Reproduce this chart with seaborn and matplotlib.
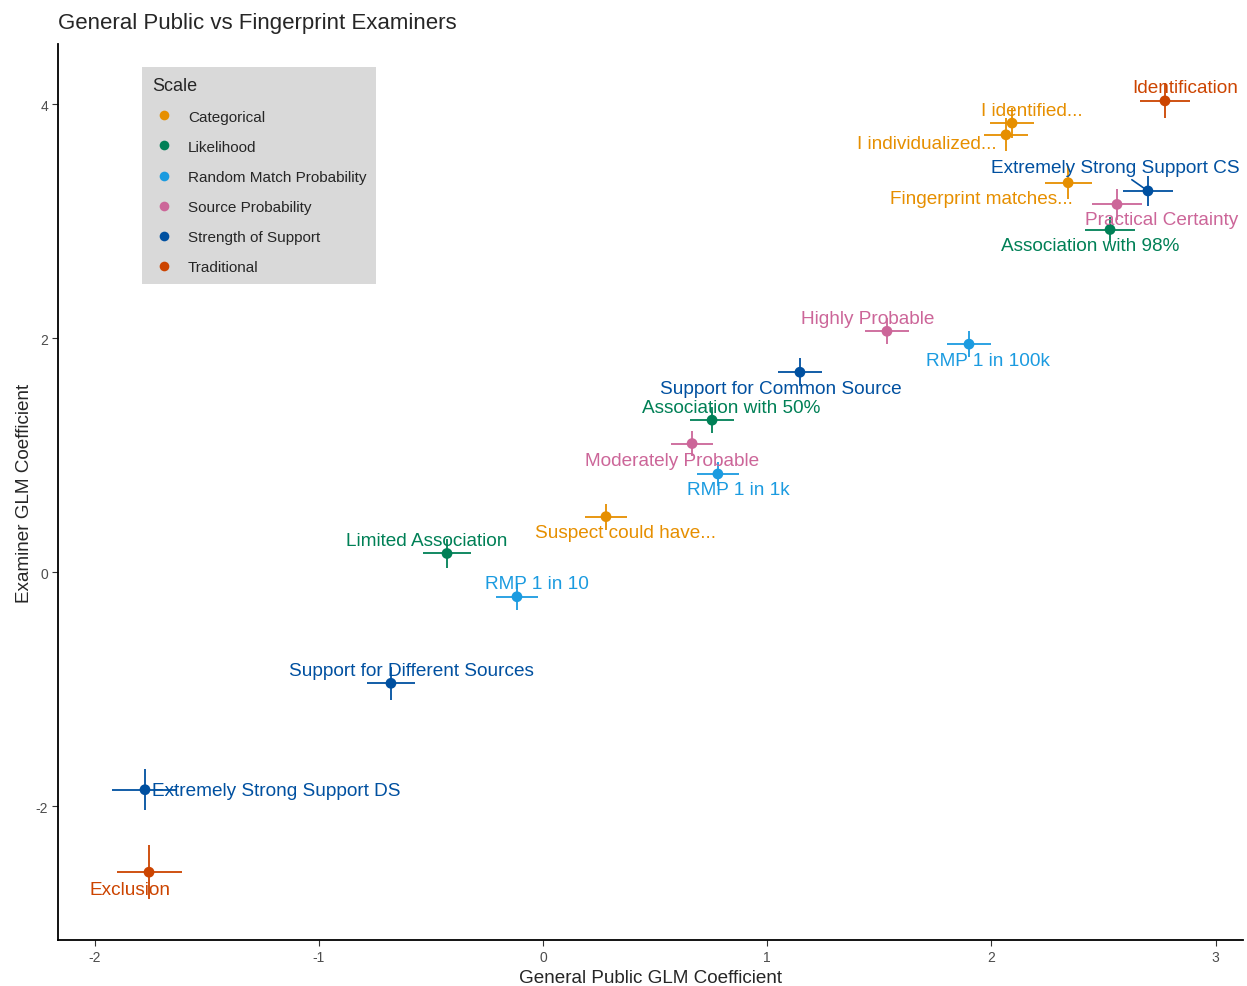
import numpy as np
import pandas as pd
import matplotlib
matplotlib.use("Agg")
import matplotlib.pyplot as plt
import seaborn as sns

# ============================
# Data
# ============================
labels = [
    "Identification", "I identified...", "I individualized...",
    "Fingerprint matches...", "Extremely Strong Support CS", "Practical Certainty",
    "Association with 98%", "Highly Probable", "RMP 1 in 100k",
    "Support for Common Source", "Association with 50%", "Moderately Probable",
    "RMP 1 in 1k", "Suspect could have...", "Limited Association",
    "RMP 1 in 10", "Support for Different Sources", "Extremely Strong Support DS",
    "Exclusion",
]
scale = [
    "Traditional", "Categorical", "Categorical",
    "Categorical", "Strength of Support", "Source Probability",
    "Likelihood", "Source Probability", "Random Match Probability",
    "Strength of Support", "Likelihood", "Source Probability",
    "Random Match Probability", "Categorical", "Likelihood",
    "Random Match Probability", "Strength of Support", "Strength of Support",
    "Traditional",
]
public_coef = [2.774, 2.092, 2.065, 2.342, 2.698, 2.560, 2.529, 1.534, 1.900,
               1.146, 0.754, 0.665, 0.780, 0.281, -0.428, -0.116, -0.678,
               -1.775, -1.757]
examiner_coef = [4.03, 3.84, 3.74, 3.33, 3.26, 3.145, 2.93, 2.06, 1.95,
                 1.71, 1.30, 1.10, 0.84, 0.475, 0.16, -0.21, -0.95,
                 -1.86, -2.565]
public_se = [0.11, 0.10, 0.10, 0.105, 0.11, 0.11, 0.11, 0.10, 0.10,
             0.10, 0.10, 0.095, 0.095, 0.095, 0.105, 0.095, 0.107,
             0.145, 0.145]
examiner_se = [0.15, 0.13, 0.14, 0.14, 0.13, 0.13, 0.11, 0.11, 0.11,
               0.12, 0.11, 0.11, 0.10, 0.11, 0.12, 0.115, 0.14,
               0.175, 0.23]

scale_order = ["Categorical", "Likelihood", "Random Match Probability",
               "Source Probability", "Strength of Support", "Traditional"]
scale_colors = ["#E68F00", "#008056", "#1B9BE0", "#CC6699", "#0050A0", "#CC4400"]

# label placement (offset in pixels from the point, horizontal alignment)
label_offsets = {
    "Identification": (20, 13, "center"),
    "I identified...": (20, 13, "center"),
    "I individualized...": (-79, -9, "center"),
    "Fingerprint matches...": (-87, -16, "center"),
    "Extremely Strong Support CS": (-33, 23, "center"),
    "Practical Certainty": (45, -15, "center"),
    "Association with 98%": (-20, -16, "center"),
    "Highly Probable": (-19, 13, "center"),
    "RMP 1 in 100k": (19, -16, "center"),
    "Support for Common Source": (-19, -16, "center"),
    "Association with 50%": (19, 13, "center"),
    "Moderately Probable": (-20, -17, "center"),
    "RMP 1 in 1k": (20, -16, "center"),
    "Suspect could have...": (20, -16, "center"),
    "Limited Association": (-20, 13, "center"),
    "RMP 1 in 10": (20, 13, "center"),
    "Support for Different Sources": (20, 13, "center"),
    "Extremely Strong Support DS": (7, -1, "left"),
    "Exclusion": (-19, -17, "center"),
}

df = pd.DataFrame({
    "label": labels,
    "Scale": scale,
    "public": public_coef,
    "examiner": examiner_coef,
    "public_se": public_se,
    "examiner_se": examiner_se,
})
palette = dict(zip(scale_order, scale_colors))

# ============================
# Plot
# ============================
sns.set_theme(style="white")
plt.rcParams["font.family"] = ["Liberation Sans", "DejaVu Sans"]
plt.rcParams["axes.unicode_minus"] = False

fig = plt.figure(figsize=(12.47, 9.87), dpi=100)
ax = fig.add_axes([0.0465, 0.0466, 0.9503, 0.9074])

for _, row in df.iterrows():
    ax.errorbar(row["public"], row["examiner"],
                xerr=row["public_se"], yerr=row["examiner_se"],
                fmt="none", ecolor=palette[row["Scale"]], elinewidth=1.3,
                capsize=0, zorder=2)

sns.scatterplot(data=df, x="public", y="examiner", hue="Scale",
                hue_order=scale_order, palette=palette, s=60,
                linewidth=0, ax=ax, zorder=3)

for _, row in df.iterrows():
    dx, dy, ha = label_offsets[row["label"]]
    arrow = None
    if row["label"] == "Extremely Strong Support CS":
        arrow = dict(arrowstyle="-", color=palette[row["Scale"]], lw=1.2,
                     shrinkA=0, shrinkB=2)
    ax.annotate(row["label"], (row["public"], row["examiner"]),
                xytext=(dx, dy), textcoords="offset pixels",
                ha=ha, va="center", fontsize=13.7,
                color=palette[row["Scale"]], arrowprops=arrow, zorder=4)

ax.set_xlim(-2.163, 3.122)
ax.set_ylim(-3.145, 4.513)
ax.set_xticks([-2, -1, 0, 1, 2, 3])
ax.set_yticks([-2, 0, 2, 4])

for side in ["top", "right"]:
    ax.spines[side].set_visible(False)
for side in ["left", "bottom"]:
    ax.spines[side].set_color("black")
    ax.spines[side].set_linewidth(1.3)

ax.tick_params(axis="both", which="major", length=4, width=0.8,
               color="#333333", labelcolor="#4D4D4D", labelsize=10,
               bottom=True, left=True, pad=3)

ax.set_xlabel("General Public GLM Coefficient", fontsize=13.6, labelpad=4)
ax.set_ylabel("Examiner GLM Coefficient", fontsize=13.6, labelpad=2)
ax.set_title("General Public vs Fingerprint Examiners", loc="left",
             fontsize=16, pad=12)

leg = ax.legend(title="Scale", loc="upper left",
                bbox_to_anchor=(0.0709, 0.975), borderaxespad=0,
                frameon=True, facecolor="#D9D9D9", edgecolor="none",
                fancybox=False, fontsize=11, title_fontsize=13,
                labelspacing=1.05, handlelength=1.6, handletextpad=0.75,
                borderpad=0.65, alignment="left", markerscale=0.9)
leg.get_frame().set_alpha(1)

fig.savefig("out.png", dpi=100)
plt.close(fig)
